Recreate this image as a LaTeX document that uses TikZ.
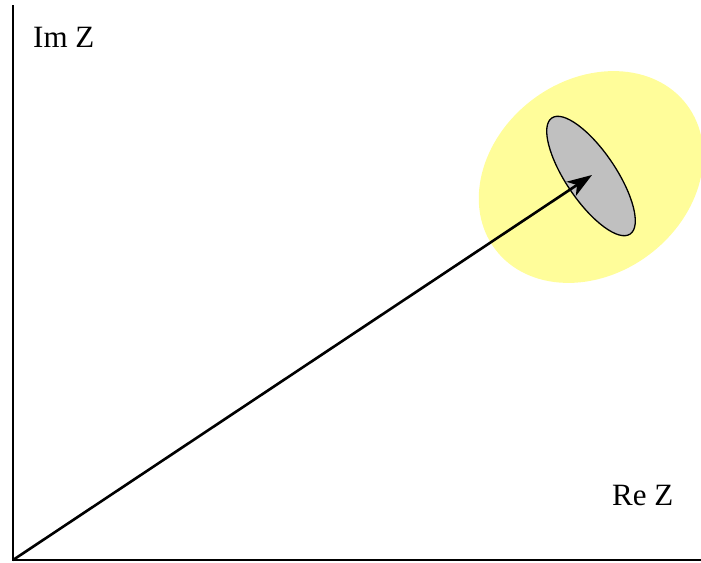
\documentclass[tikz,border=0pt]{standalone}
\usepackage{fontspec}
\setmainfont{Liberation Serif}
\usetikzlibrary{arrows.meta}
\definecolor{halo}{RGB}{255,253,154}
\definecolor{spot}{RGB}{192,192,192}
\tikzset{
  axis/.style={line width=1.5pt},
  vec/.style={line width=2.6pt, -{Stealth[length=25pt,width=17pt,inset=7pt]}},
  lbl/.style={font=\fontsize{31}{31}\selectfont, inner sep=0pt, anchor=base west},
}
\begin{document}
\begin{tikzpicture}[x=1pt,y=-1pt]
\useasboundingbox (0,0) rectangle (701,562);
\coordinate (O) at (13,560);
\coordinate (Ytop) at (13,5);
\coordinate (Xend) at (701,560);
\coordinate (C) at (591,177);
\coordinate (tip) at (592,175);
% yellow uncertainty region
\fill[halo] (C) ellipse[x radius=120, y radius=97, rotate=37];
% gray ellipse
\filldraw[fill=spot, draw=black, line width=1.3pt] (591,176) ellipse[x radius=70, y radius=25, rotate=-56];
% axes
\draw[axis] (Ytop) -- (O) -- (Xend);
% vector
\draw[vec] (O) -- (tip);
% labels
\node[lbl] (im) at (33,47) {Im Z};
\node[lbl] (re) at (612,505) {Re Z};
\end{tikzpicture}
\end{document}
